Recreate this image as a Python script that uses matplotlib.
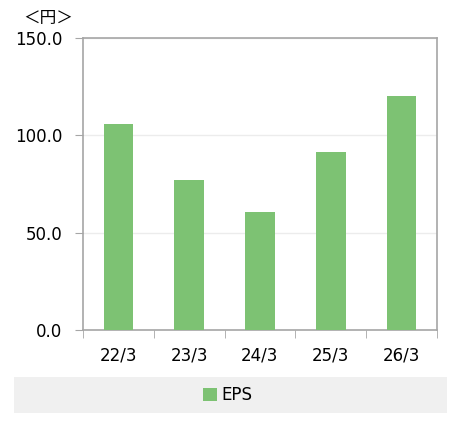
import matplotlib.pyplot as plt
from matplotlib.patches import Rectangle

plt.rcParams['font.family'] = ['DejaVu Sans', 'Noto Sans CJK JP']

# data
labels = ['22/3', '23/3', '24/3', '25/3', '26/3']
eps = [105.8, 77.0, 60.6, 91.4, 120.2]
yticks = [0.0, 50.0, 100.0, 150.0]

green = '#7dc273'
gray = '#a6a6a6'

fig = plt.figure(figsize=(4.56, 4.29), dpi=100)
ax = fig.add_axes([0.182, 0.2308, 0.776, 0.6806])

x = range(len(labels))
ax.bar(x, eps, width=0.42, color=green, label='EPS', zorder=3)

ax.set_ylim(0, 150)
ax.set_xlim(-0.5, len(labels) - 0.5)
ax.set_yticks(yticks)
ax.set_yticklabels([f'{v:.1f}' for v in yticks], fontsize=12)
ax.set_xticks(list(x))
ax.set_xticklabels(labels, fontsize=12)
ax.tick_params(axis='x', length=0, pad=12)
ax.set_xticks([i - 0.5 for i in range(len(labels) + 1)], minor=True)
ax.tick_params(axis='x', which='minor', length=6, color=gray, direction='out')
ax.tick_params(axis='y', length=6, color=gray, pad=9)
ax.grid(axis='y', color='#ececec', linewidth=1, zorder=0)

for s in ax.spines.values():
    s.set_color(gray)
    s.set_linewidth(1.2)

fig.text(0.105, 0.958, '＜円＞', fontsize=12, ha='center', va='center')

# legend band
fig.patches.append(Rectangle((0.0307, 0.0373), 0.9496, 0.0839, transform=fig.transFigure,
                             facecolor='#f0f0f0', edgecolor='none', zorder=0))
fig.legend(loc='center', bbox_to_anchor=(0.5, 0.079), frameon=False, fontsize=12,
           handlelength=0.8, handleheight=0.8, handletextpad=0.3)

fig.savefig('out.png', dpi=100)
